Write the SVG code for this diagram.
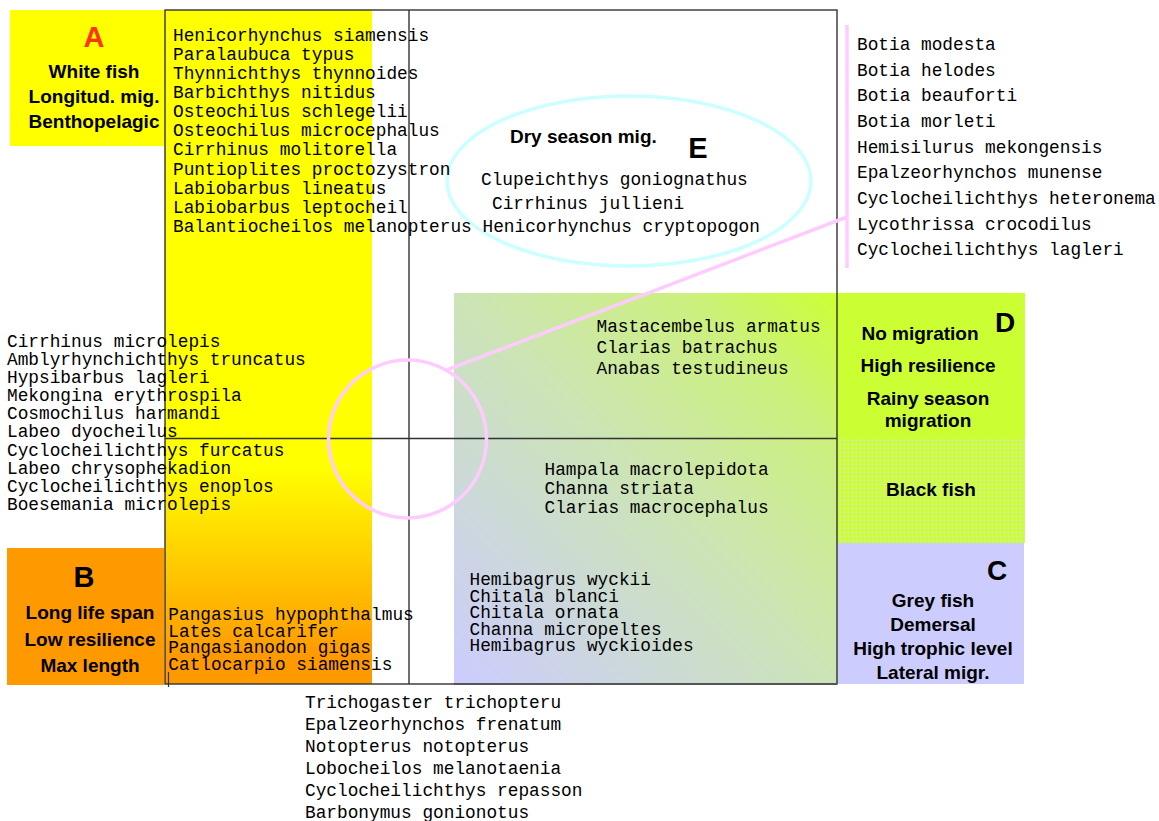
<svg xmlns="http://www.w3.org/2000/svg" width="1159" height="821" viewBox="0 0 1159 821">
  <style>
    .sp { font-family: "Liberation Mono", "Courier New", monospace; font-size: 17.8px; fill: #000; }
    .lb { font-family: "Liberation Sans", Arial, sans-serif; font-size: 19px; font-weight: bold; fill: #000; text-anchor: middle; }
    .big { font-family: "Liberation Sans", Arial, sans-serif; font-size: 29px; font-weight: bold; fill: #000; text-anchor: middle; }
    .frame { stroke: #333; stroke-width: 1.4; fill: none; }
    .pink { stroke: #FFCCFF; stroke-width: 3.5; fill: none; }
  </style>
  <defs>
    <linearGradient id="yellowFade" x1="0" y1="0" x2="0" y2="1">
      <stop offset="0" stop-color="#FFFF00"/>
      <stop offset="0.68" stop-color="#FFFF00"/>
      <stop offset="0.96" stop-color="#FF9900"/>
      <stop offset="1" stop-color="#FF9900"/>
    </linearGradient>
    <linearGradient id="greyToGreen" x1="0" y1="1" x2="1" y2="0">
      <stop offset="0" stop-color="#CCCCFF"/>
      <stop offset="0.5" stop-color="#CCE4B6"/>
      <stop offset="0.8" stop-color="#CCF07E"/>
      <stop offset="1" stop-color="#CCFF33"/>
    </linearGradient>
    <pattern id="grid" width="4" height="4" patternUnits="userSpaceOnUse">
      <rect width="4" height="4" fill="#CCFF33"/>
      <rect x="0" y="0" width="4" height="1" fill="#D2F27A"/>
      <rect x="0" y="0" width="1" height="4" fill="#D2F27A"/>
    </pattern>
  </defs>

  <rect width="1159" height="821" fill="#FFFFFF"/>

  <!-- background bands -->
  <rect x="165" y="10" width="207" height="674" fill="url(#yellowFade)"/>
  <rect x="454" y="293" width="383" height="391" fill="url(#greyToGreen)"/>

  <!-- group A: white fish -->
  <g id="nodeA">
    <rect x="10" y="10" width="155" height="136" fill="#FFFF00"/>
    <text class="big" x="94" y="47" style="fill:#FF3300">A</text>
    <text class="lb" x="94" y="78">White fish</text>
    <text class="lb" x="94" y="103">Longitud. mig.</text>
    <text class="lb" x="94" y="128">Benthopelagic</text>
  </g>

  <!-- group B -->
  <g id="nodeB">
    <rect x="7" y="548" width="157" height="137" fill="#FF9900"/>
    <text class="big" x="84" y="587">B</text>
    <text class="lb" x="90" y="619">Long life span</text>
    <text class="lb" x="90" y="646">Low resilience</text>
    <text class="lb" x="90" y="672">Max length</text>
  </g>

  <!-- group D: black fish -->
  <g id="nodeD">
    <rect x="837" y="293" width="188" height="250" fill="#CCFF33"/>
    <rect x="837" y="438" width="188" height="105" fill="url(#grid)"/>
    <text class="lb" x="920" y="340">No migration</text>
    <text class="big" x="1005" y="332" style="font-size:28px">D</text>
    <text class="lb" x="928" y="372">High resilience</text>
    <text class="lb" x="928" y="405">Rainy season</text>
    <text class="lb" x="928" y="427">migration</text>
    <text class="lb" x="931" y="496">Black fish</text>
  </g>

  <!-- group C: grey fish -->
  <g id="nodeC">
    <rect x="837" y="543" width="187" height="141" fill="#CCCCFF"/>
    <text class="big" x="997" y="580" style="font-size:28px">C</text>
    <text class="lb" x="933" y="607">Grey fish</text>
    <text class="lb" x="933" y="631">Demersal</text>
    <text class="lb" x="933" y="655">High trophic level</text>
    <text class="lb" x="933" y="679">Lateral migr.</text>
  </g>

  <!-- axes and frame -->
  <g id="frame">
    <rect class="frame" x="165" y="10" width="672" height="674"/>
    <line class="frame" x1="409" y1="10" x2="409" y2="684"/>
    <line class="frame" x1="165" y1="438.5" x2="837" y2="438.5"/>
    <line x1="454" y1="684" x2="837" y2="684" stroke="#555" stroke-width="2"/>
    <line x1="168.5" y1="672" x2="168.5" y2="687" stroke="#333" stroke-width="1.2"/>
  </g>

  <!-- connectors -->
  <g id="connectors">
    <circle class="pink" cx="407.5" cy="439" r="79"/>
    <line class="pink" x1="446.7" y1="370" x2="847" y2="217"/>
    <line class="pink" x1="847" y1="25" x2="847" y2="268"/>
    <ellipse cx="629" cy="181" rx="182" ry="85" fill="none" stroke="#CCFFFF" stroke-width="3.5"/>
  </g>

  <!-- group E: dry season migrants -->
  <g id="nodeE">
    <text class="lb" x="510" y="143" style="text-anchor:start">Dry season mig.</text>
    <text class="big" x="698" y="158">E</text>
    <text class="sp" x="481" y="185">Clupeichthys goniognathus</text>
    <text class="sp" x="492" y="208.7">Cirrhinus jullieni</text>
    <text class="sp" x="482.5" y="231.7">Henicorhynchus cryptopogon</text>
  </g>

  <!-- species lists -->
  <g id="listTop">
    <text class="sp" x="173" y="40.5">Henicorhynchus siamensis</text>
    <text class="sp" x="173" y="59.6">Paralaubuca typus</text>
    <text class="sp" x="173" y="78.8">Thynnichthys thynnoides</text>
    <text class="sp" x="173" y="97.9">Barbichthys nitidus</text>
    <text class="sp" x="173" y="117.1">Osteochilus schlegelii</text>
    <text class="sp" x="173" y="136.2">Osteochilus microcephalus</text>
    <text class="sp" x="173" y="155.4">Cirrhinus molitorella</text>
    <text class="sp" x="173" y="174.5">Puntioplites proctozystron</text>
    <text class="sp" x="173" y="193.7">Labiobarbus lineatus</text>
    <text class="sp" x="173" y="212.8">Labiobarbus leptocheil</text>
    <text class="sp" x="173" y="232">Balantiocheilos melanopterus</text>
  </g>

  <g id="listRight">
    <text class="sp" x="857" y="50">Botia modesta</text>
    <text class="sp" x="857" y="75.6">Botia helodes</text>
    <text class="sp" x="857" y="101.3">Botia beauforti</text>
    <text class="sp" x="857" y="126.9">Botia morleti</text>
    <text class="sp" x="857" y="152.6">Hemisilurus mekongensis</text>
    <text class="sp" x="857" y="178.2">Epalzeorhynchos munense</text>
    <text class="sp" x="857" y="203.9">Cyclocheilichthys heteronema</text>
    <text class="sp" x="857" y="229.5">Lycothrissa crocodilus</text>
    <text class="sp" x="857" y="255.2">Cyclocheilichthys lagleri</text>
  </g>

  <g id="listLeft">
    <text class="sp" x="7" y="346.7">Cirrhinus microlepis</text>
    <text class="sp" x="7" y="364.8">Amblyrhynchichthys truncatus</text>
    <text class="sp" x="7" y="383">Hypsibarbus lagleri</text>
    <text class="sp" x="7" y="401.1">Mekongina erythrospila</text>
    <text class="sp" x="7" y="419.3">Cosmochilus harmandi</text>
    <text class="sp" x="7" y="437.4">Labeo dyocheilus</text>
    <text class="sp" x="7" y="455.6">Cyclocheilichthys furcatus</text>
    <text class="sp" x="7" y="473.7">Labeo chrysophekadion</text>
    <text class="sp" x="7" y="491.9">Cyclocheilichthys enoplos</text>
    <text class="sp" x="7" y="510">Boesemania microlepis</text>
  </g>

  <g id="listNoMigration">
    <text class="sp" x="596.5" y="332.3">Mastacembelus armatus</text>
    <text class="sp" x="596.5" y="353.3">Clarias batrachus</text>
    <text class="sp" x="596.5" y="374.3">Anabas testudineus</text>
  </g>

  <g id="listBlackFish">
    <text class="sp" x="544.5" y="475">Hampala macrolepidota</text>
    <text class="sp" x="544.5" y="494">Channa striata</text>
    <text class="sp" x="544.5" y="513">Clarias macrocephalus</text>
  </g>

  <g id="listGreyFish">
    <text class="sp" x="469.5" y="585">Hemibagrus wyckii</text>
    <text class="sp" x="469.5" y="601.5">Chitala blanci</text>
    <text class="sp" x="469.5" y="618">Chitala ornata</text>
    <text class="sp" x="469.5" y="634.5">Channa micropeltes</text>
    <text class="sp" x="469.5" y="651">Hemibagrus wyckioides</text>
  </g>

  <g id="listLongLived">
    <text class="sp" x="168.3" y="620">Pangasius hypophthalmus</text>
    <text class="sp" x="168.3" y="636.7">Lates calcarifer</text>
    <text class="sp" x="168.3" y="653.3">Pangasianodon gigas</text>
    <text class="sp" x="168.3" y="670">Catlocarpio siamensis</text>
  </g>

  <g id="listBottom">
    <text class="sp" x="305" y="708">Trichogaster trichopteru</text>
    <text class="sp" x="305" y="730">Epalzeorhynchos frenatum</text>
    <text class="sp" x="305" y="752">Notopterus notopterus</text>
    <text class="sp" x="305" y="774">Lobocheilos melanotaenia</text>
    <text class="sp" x="305" y="796">Cyclocheilichthys repasson</text>
    <text class="sp" x="305" y="818">Barbonymus gonionotus</text>
  </g>
</svg>
